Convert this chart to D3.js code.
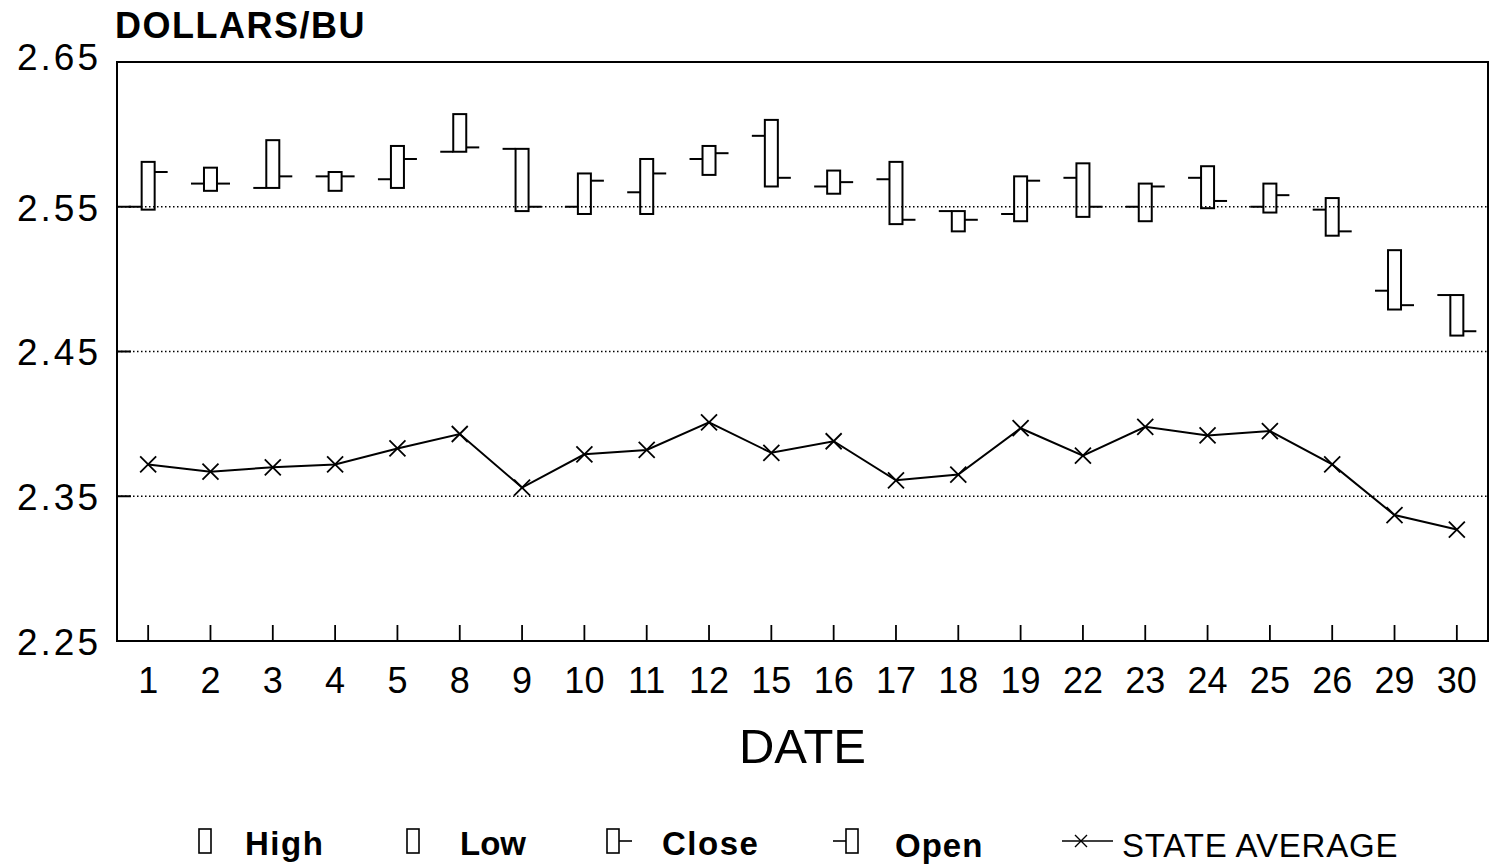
<!DOCTYPE html>
<html>
<head>
<meta charset="utf-8">
<script src="https://cdn.jsdelivr.net/npm/d3@7"></script>
<style>
  html, body { margin: 0; padding: 0; background: #fff; }
  svg { display: block; }
  text { font-family: "Liberation Sans", Arial, Helvetica, sans-serif; fill: #000; }
</style>
</head>
<body>
<svg id="chart" width="1489" height="866"></svg>
<script>
// ---- data ----
const dates = ["1","2","3","4","5","8","9","10","11","12","15","16","17","18","19","22","23","24","25","26","29","30"];
const highs  = [2.581,2.577,2.596,2.574,2.592,2.614,2.590,2.573,2.583,2.592,2.610,2.575,2.581,2.547,2.571,2.580,2.566,2.578,2.566,2.556,2.520,2.489];
const lows   = [2.548,2.561,2.563,2.561,2.563,2.588,2.547,2.545,2.545,2.572,2.564,2.559,2.538,2.533,2.540,2.543,2.540,2.549,2.546,2.530,2.479,2.461];
const opens  = [2.550,2.566,2.563,2.571,2.569,2.588,2.590,2.550,2.560,2.583,2.599,2.564,2.569,2.547,2.545,2.570,2.550,2.570,2.550,2.548,2.492,2.489];
const closes = [2.574,2.566,2.571,2.571,2.583,2.591,2.550,2.568,2.573,2.587,2.570,2.567,2.541,2.541,2.568,2.550,2.564,2.554,2.558,2.533,2.482,2.464];
const stateAvg = [2.372,2.367,2.370,2.372,2.383,2.393,2.356,2.379,2.382,2.401,2.380,2.388,2.361,2.365,2.397,2.378,2.398,2.392,2.395,2.372,2.337,2.327];
const yTicks = [2.25, 2.35, 2.45, 2.55, 2.65];
const yTickLabels = ["2.25","2.35","2.45","2.55","2.65"];
const gridValues = [2.35, 2.45, 2.55];
const legendItems = ["High","Low","Close","Open","STATE AVERAGE"];

(function () {
// ---- layout ----
const pl = 117, pr = 1488, pt = 62, pb = 641;
const svg = d3.select("#chart");

const x = d3.scaleBand().domain(dates).range([pl, pr]).padding(0);
const y = d3.scaleLinear().domain([2.25, 2.65]).range([pb, pt]);
const cx = d => x(d) + x.bandwidth() / 2;

// gridlines (dotted)
svg.append("g").selectAll("line").data(gridValues).join("line")
  .attr("x1", pl).attr("x2", pr)
  .attr("y1", d => y(d)).attr("y2", d => y(d))
  .attr("stroke", "#000").attr("stroke-width", 1.3)
  .attr("stroke-dasharray", "1.5,2.5");

// inward y ticks
svg.append("g").selectAll("line").data(gridValues).join("line")
  .attr("x1", pl).attr("x2", pl + 14)
  .attr("y1", d => y(d)).attr("y2", d => y(d))
  .attr("stroke", "#000").attr("stroke-width", 2);

// frame
svg.append("rect")
  .attr("x", pl).attr("y", pt)
  .attr("width", pr - pl).attr("height", pb - pt)
  .attr("fill", "none").attr("stroke", "#000").attr("stroke-width", 2);

// x axis (ticks inward, labels below)
const xAxis = d3.axisBottom(x).tickSize(0).tickPadding(0);
const gx = svg.append("g").attr("transform", `translate(0,${pb})`).call(xAxis);
gx.select(".domain").remove();
gx.selectAll(".tick line").remove();
gx.selectAll(".tick").append("line")
  .attr("y1", 0).attr("y2", -16).attr("stroke", "#000").attr("stroke-width", 1.8);
gx.selectAll(".tick text")
  .attr("y", 52).attr("dy", 0)
  .style("font-size", "36px")
  .style("font-family", "'Liberation Sans', Arial, sans-serif")
  .attr("fill", "#000");

// y axis labels
const yAxis = d3.axisLeft(y).tickValues(yTicks).tickFormat((d, i) => yTickLabels[i]).tickSize(0).tickPadding(16);
const gy = svg.append("g").attr("transform", `translate(${pl},0)`).call(yAxis);
gy.select(".domain").remove();
gy.selectAll(".tick text")
  .style("font-size", "37px")
  .style("letter-spacing", "3px")
  .style("font-family", "'Liberation Sans', Arial, sans-serif")
  .attr("fill", "#000")
  .attr("dy", "0.36em");
gy.selectAll(".tick").filter(d => d === 2.65).select("text").attr("dy", "0.2em");

// titles
svg.append("text").attr("x", 115).attr("y", 38)
  .style("font-size", "36px").style("font-weight", "bold").style("letter-spacing", "1.5px")
  .text("DOLLARS/BU");
svg.append("text").attr("x", (pl + pr) / 2).attr("y", 763)
  .attr("text-anchor", "middle")
  .style("font-size", "49px")
  .text("DATE");

// ---- candles ----
const boxW = 13, tickL = 13;
const candles = svg.append("g");
dates.forEach((d, i) => {
  const c = cx(d);
  candles.append("rect")
    .attr("x", c - boxW / 2).attr("y", y(highs[i]))
    .attr("width", boxW).attr("height", y(lows[i]) - y(highs[i]))
    .attr("fill", "none").attr("stroke", "#000").attr("stroke-width", 2);
  candles.append("line")
    .attr("x1", c - boxW / 2 - tickL).attr("x2", c - boxW / 2)
    .attr("y1", y(opens[i])).attr("y2", y(opens[i]))
    .attr("stroke", "#000").attr("stroke-width", 2);
  candles.append("line")
    .attr("x1", c + boxW / 2).attr("x2", c + boxW / 2 + tickL)
    .attr("y1", y(closes[i])).attr("y2", y(closes[i]))
    .attr("stroke", "#000").attr("stroke-width", 2);
});

// ---- state average line ----
const line = d3.line().x((v, i) => cx(dates[i])).y(v => y(v));
svg.append("path").datum(stateAvg)
  .attr("d", line).attr("fill", "none")
  .attr("stroke", "#000").attr("stroke-width", 2);
const xm = 8;
const marks = svg.append("g");
stateAvg.forEach((v, i) => {
  const px = cx(dates[i]), py = y(v);
  marks.append("path")
    .attr("d", `M${px - xm},${py - xm}L${px + xm},${py + xm}M${px - xm},${py + xm}L${px + xm},${py - xm}`)
    .attr("stroke", "#000").attr("stroke-width", 1.8).attr("fill", "none");
});

// ---- legend ----
const lg = svg.append("g");
const ly = 841;
// High
lg.append("rect").attr("x", 199).attr("y", ly - 12).attr("width", 12).attr("height", 24)
  .attr("fill", "none").attr("stroke", "#000").attr("stroke-width", 1.6);
lg.append("text").attr("x", 245).attr("y", 855).style("font-size", "33px").style("font-weight", "bold").style("letter-spacing", "1.5px").text(legendItems[0]);
// Low
lg.append("rect").attr("x", 407).attr("y", ly - 12).attr("width", 12).attr("height", 24)
  .attr("fill", "none").attr("stroke", "#000").attr("stroke-width", 1.6);
lg.append("text").attr("x", 460).attr("y", 855).style("font-size", "33px").style("font-weight", "bold").text(legendItems[1]);
// Close
lg.append("rect").attr("x", 607).attr("y", ly - 12).attr("width", 12).attr("height", 24)
  .attr("fill", "none").attr("stroke", "#000").attr("stroke-width", 1.6);
lg.append("line").attr("x1", 619).attr("x2", 632).attr("y1", ly).attr("y2", ly)
  .attr("stroke", "#000").attr("stroke-width", 1.6);
lg.append("text").attr("x", 662).attr("y", 855).style("font-size", "33px").style("font-weight", "bold").style("letter-spacing", "1.5px").text(legendItems[2]);
// Open
lg.append("line").attr("x1", 833).attr("x2", 846).attr("y1", ly).attr("y2", ly)
  .attr("stroke", "#000").attr("stroke-width", 1.6);
lg.append("rect").attr("x", 846).attr("y", ly - 12).attr("width", 12).attr("height", 24)
  .attr("fill", "none").attr("stroke", "#000").attr("stroke-width", 1.6);
lg.append("text").attr("x", 895).attr("y", 857).style("font-size", "33px").style("font-weight", "bold").style("letter-spacing", "1px").text(legendItems[3]);
// State average
lg.append("line").attr("x1", 1062).attr("x2", 1113).attr("y1", ly).attr("y2", ly)
  .attr("stroke", "#000").attr("stroke-width", 1.6);
lg.append("path")
  .attr("d", `M${1081 - 6},${ly - 6}L${1081 + 6},${ly + 6}M${1081 - 6},${ly + 6}L${1081 + 6},${ly - 6}`)
  .attr("stroke", "#000").attr("stroke-width", 1.4);
lg.append("text").attr("x", 1122).attr("y", 857).style("font-size", "33px").style("letter-spacing", "0.8px").text(legendItems[4]);
})();
</script>
</body>
</html>
